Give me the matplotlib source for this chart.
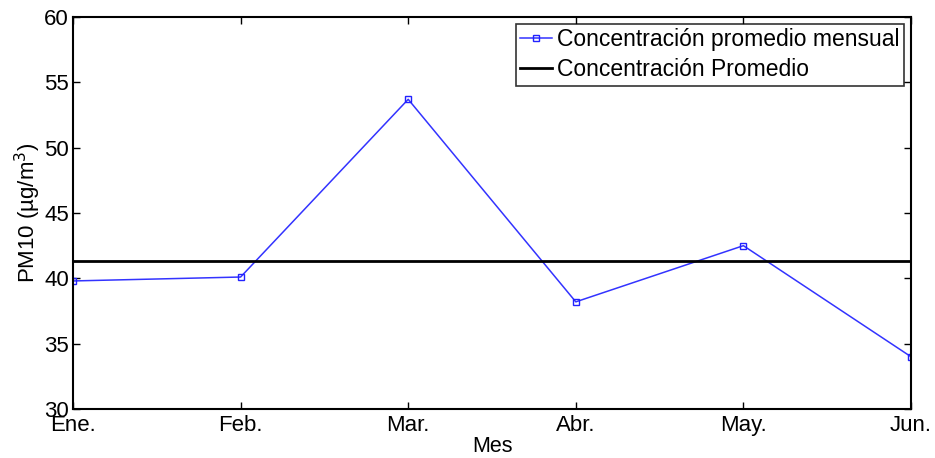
import matplotlib
matplotlib.use("Agg")
import matplotlib.pyplot as plt

months = ["Ene.", "Feb.", "Mar.", "Abr.", "May.", "Jun."]
monthly = [39.8, 40.1, 53.7, 38.2, 42.5, 34.0]
mean_value = 41.3
yticks = [30, 35, 40, 45, 50, 55, 60]

plt.rcParams['font.family'] = ['Liberation Sans', 'DejaVu Sans']

fig = plt.figure(figsize=(9.35, 4.58), dpi=100)
ax = fig.add_axes([73/935, 1 - 409/458, (911-73)/935, (409-17)/458])

x = list(range(len(months)))
ax.plot(x, monthly, color='#3333ff', lw=1.1, marker='s', markersize=5,
        markerfacecolor='none', markeredgecolor='#2222ff', markeredgewidth=1.0,
        label='Concentración promedio mensual')
ax.axhline(mean_value, color='black', lw=2, label='Concentración Promedio')

ax.set_xlim(0, len(months) - 1)
ax.set_ylim(30, 60)
ax.set_xticks(x)
ax.set_xticklabels(months)
ax.set_yticks(yticks)
ax.tick_params(direction='in', top=True, right=True, length=5, width=1,
               labelsize=16)
ax.tick_params(axis='x', pad=4)
ax.tick_params(axis='y', pad=3)
for s in ax.spines.values():
    s.set_linewidth(1.5)

ax.set_xlabel('Mes', fontsize=15.5, labelpad=0)
ax.set_ylabel('PM10 (µg/m$^3$)', fontsize=16, labelpad=1)

leg = ax.legend(loc='upper right', fontsize=16.5, frameon=True, fancybox=False,
                edgecolor='black', borderpad=0.2, handlelength=1.4,
                handletextpad=0.2, labelspacing=0.3, borderaxespad=0.3,
                markerscale=0.8)
leg.get_frame().set_linewidth(1.2)

fig.savefig('out.png', dpi=100)
